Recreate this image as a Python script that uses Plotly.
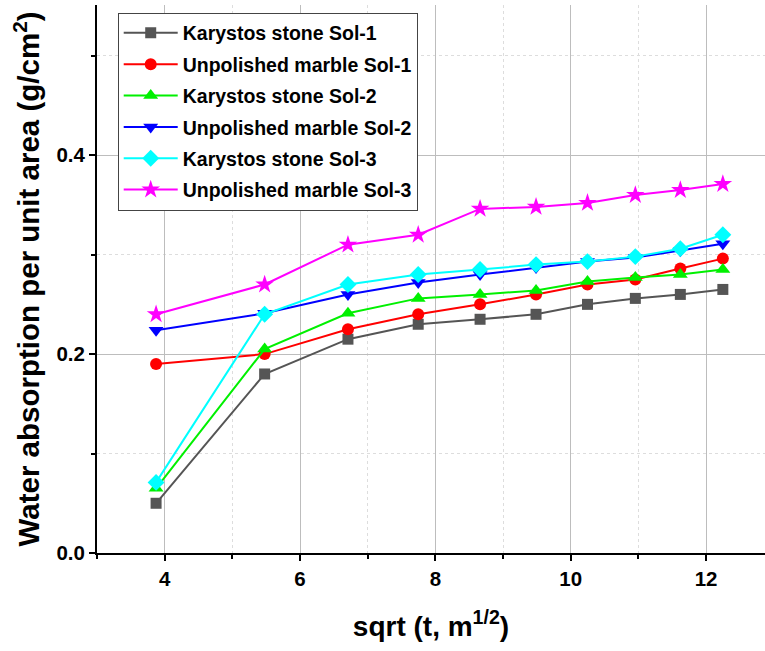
import plotly.graph_objects as go

sqrt_t = [3.873, 5.477, 6.708, 7.746, 8.660, 9.487, 10.247, 10.954, 11.619, 12.247]

series_names = [
    "Karystos stone Sol-1",
    "Unpolished marble Sol-1",
    "Karystos stone Sol-2",
    "Unpolished marble Sol-2",
    "Karystos stone Sol-3",
    "Unpolished marble Sol-3",
]
karystos_sol1 = [0.050, 0.180, 0.215, 0.230, 0.235, 0.240, 0.250, 0.256, 0.260, 0.265]
marble_sol1 = [0.190, 0.200, 0.225, 0.240, 0.250, 0.260, 0.270, 0.275, 0.286, 0.296]
karystos_sol2 = [0.065, 0.205, 0.241, 0.256, 0.260, 0.264, 0.273, 0.277, 0.280, 0.285]
marble_sol2 = [0.224, 0.241, 0.260, 0.272, 0.280, 0.287, 0.293, 0.297, 0.304, 0.311]
karystos_sol3 = [0.071, 0.240, 0.270, 0.280, 0.285, 0.290, 0.293, 0.298, 0.306, 0.320]
marble_sol3 = [0.240, 0.270, 0.310, 0.320, 0.346, 0.348, 0.352, 0.360, 0.365, 0.371]

y_tick_vals = [0.0, 0.2, 0.4]
y_tick_text = ["0.0", "0.2", "0.4"]
x_tick_vals = [4, 6, 8, 10, 12]

values = [karystos_sol1, marble_sol1, karystos_sol2, marble_sol2, karystos_sol3, marble_sol3]
colors = ["#555555", "#ff0000", "#00f000", "#0000ff", "#00ffff", "#ff00ff"]
symbols = ["square", "circle", "triangle-up", "triangle-down", "diamond", "star"]
sizes = [11, 12, 13, 13, 13, 14]

fig = go.Figure()
for i, (name, vals) in enumerate(zip(series_names, values)):
    fig.add_trace(go.Scatter(
        x=sqrt_t, y=vals, name=name, mode="lines+markers",
        legendgroup=f"g{i}",
        line=dict(color=colors[i], width=2),
        marker=dict(symbol=symbols[i], size=sizes[i], color=colors[i],
                    line=dict(width=0)),
    ))

font_family = "Liberation Sans, Arial, sans-serif"

fig.update_layout(
    width=765, height=651,
    margin=dict(l=97, r=0, t=5, b=98),
    paper_bgcolor="white", plot_bgcolor="white",
    font=dict(family=font_family, color="black"),
    showlegend=True,
    legend=dict(
        x=0.031, y=0.986, xanchor="left", yanchor="top",
        bgcolor="white", bordercolor="#444444", borderwidth=1,
        font=dict(family=font_family, size=19.5, weight="bold", color="black"),
        tracegroupgap=3, traceorder="grouped",
        itemwidth=54,
    ),
    xaxis=dict(
        range=[3, 12.87],
        tickvals=x_tick_vals,
        ticks="outside", ticklen=6, tickwidth=2, tickcolor="black",
        showline=True, linecolor="black", linewidth=2,
        showgrid=True, gridcolor="#bdbdbd", gridwidth=1,
        zeroline=False,
        tickfont=dict(family=font_family, size=20.5, weight="bold", color="black"),
        minor=dict(dtick=1, tick0=3, ticks="outside", ticklen=4, tickwidth=2,
                   tickcolor="black", showgrid=True, gridcolor="#dddddd",
                   griddash="dot", gridwidth=1),
        title=dict(text="<b>sqrt (t, m<sup>1/2</sup>)</b>",
                   font=dict(family=font_family, size=28, color="black"),
                   standoff=28),
    ),
    yaxis=dict(
        range=[0, 0.551],
        tickvals=y_tick_vals, ticktext=y_tick_text,
        ticks="outside", ticklen=6, tickwidth=2, tickcolor="black",
        showline=True, linecolor="black", linewidth=2,
        showgrid=True, gridcolor="#bdbdbd", gridwidth=1,
        zeroline=False,
        tickfont=dict(family=font_family, size=20.5, weight="bold", color="black"),
        minor=dict(dtick=0.1, tick0=0, ticks="outside", ticklen=4, tickwidth=2,
                   tickcolor="black", showgrid=True, gridcolor="#dddddd",
                   griddash="dot", gridwidth=1),
        title=dict(text="<b>Water absorption per unit area (g/cm<sup>2</sup>)</b>",
                   font=dict(family=font_family, size=29.5, color="black"),
                   standoff=8),
    ),
)

fig.write_html("out.html")
